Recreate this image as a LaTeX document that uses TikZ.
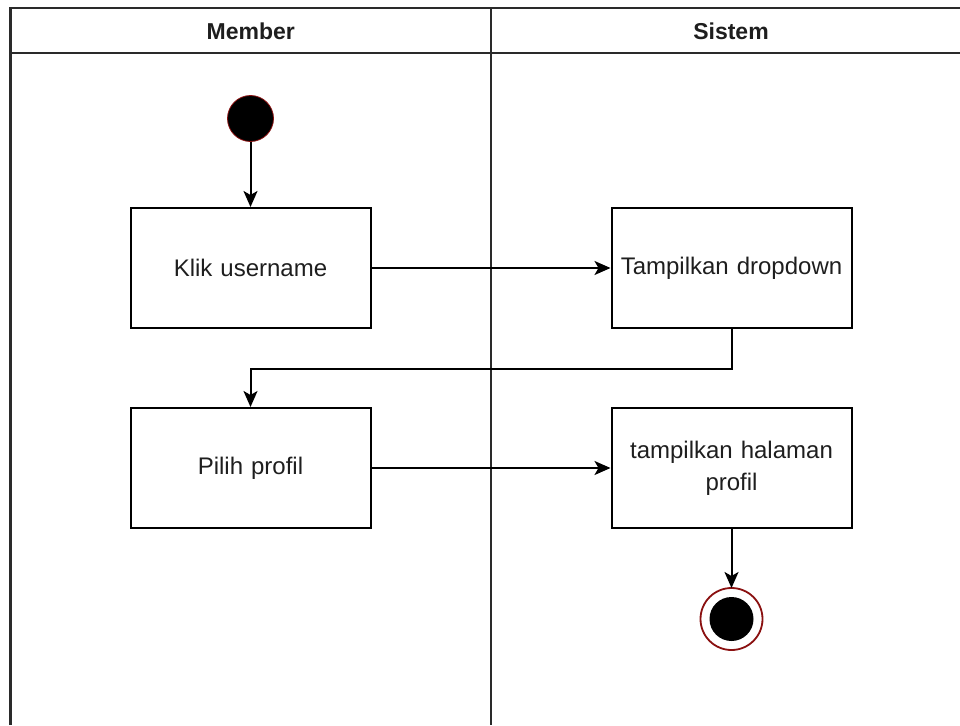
\documentclass[tikz,border=0pt]{standalone}
\usepackage{fontspec}
\setmainfont{Liberation Sans}
\usetikzlibrary{arrows.meta}
\definecolor{txt}{HTML}{1E1E1E}
\definecolor{lanec}{HTML}{2A2A2A}
\definecolor{redline}{HTML}{8A1010}
\begin{document}
\begin{tikzpicture}[x=1pt,y=-1pt,
  lane/.style={draw=lanec, line width=2.2pt},
  lanehead/.style={font=\fontsize{23}{28}\selectfont\bfseries, text=txt, inner sep=0},
  act/.style={draw=black, line width=2pt, minimum width=240pt, minimum height=120pt,
              align=center, text width=236pt, font=\fontsize{24}{32}\selectfont, text=txt, inner sep=0},
  startnode/.style={circle, fill=black, draw=redline, line width=0.8pt, minimum size=46pt, inner sep=0},
  endouter/.style={circle, fill=white, draw=redline, line width=1.8pt, minimum size=62pt, inner sep=0, outer sep=0},
  endinner/.style={circle, fill=black, minimum size=44pt, inner sep=0},
  flow/.style={line width=2pt, -{Stealth[length=16pt,width=14pt,inset=4pt]}}]
\useasboundingbox (0,0) rectangle (960,725);
% swimlanes
\draw[lane] (10.5,725) -- (10.5,8) -- (960,8);
\draw[lane] (10.5,53) -- (960,53);
\draw[lane] (491,8) -- (491,725);
\node[lanehead] (hmember) at (250.75,31) {Member};
\node[lanehead] (hsistem) at (731,31) {Sistem};
% nodes
\node[startnode] (start) at (250.5,118.5) {};
\node[act] (klik) at (250.5,268) {Klik username};
\node[act] (drop) at (731.5,268) {Tampilkan dropdown};
\node[act] (pilih) at (250.5,468) {Pilih profil};
\node[act] (hal) at (731.5,468) {tampilkan halaman\\profil};
\node[endouter] (end) at (731.5,619) {};
\node[endinner] (endin) at (731.5,619) {};
% connectors
\draw[flow] (start) -- (klik);
\draw[flow] (klik) -- (drop);
\draw[flow] (drop.south) -- ++(0,40) -| (pilih.north);
\draw[flow] (pilih) -- (hal);
\draw[flow] (hal.south) -- (end.north);
\end{tikzpicture}
\end{document}
